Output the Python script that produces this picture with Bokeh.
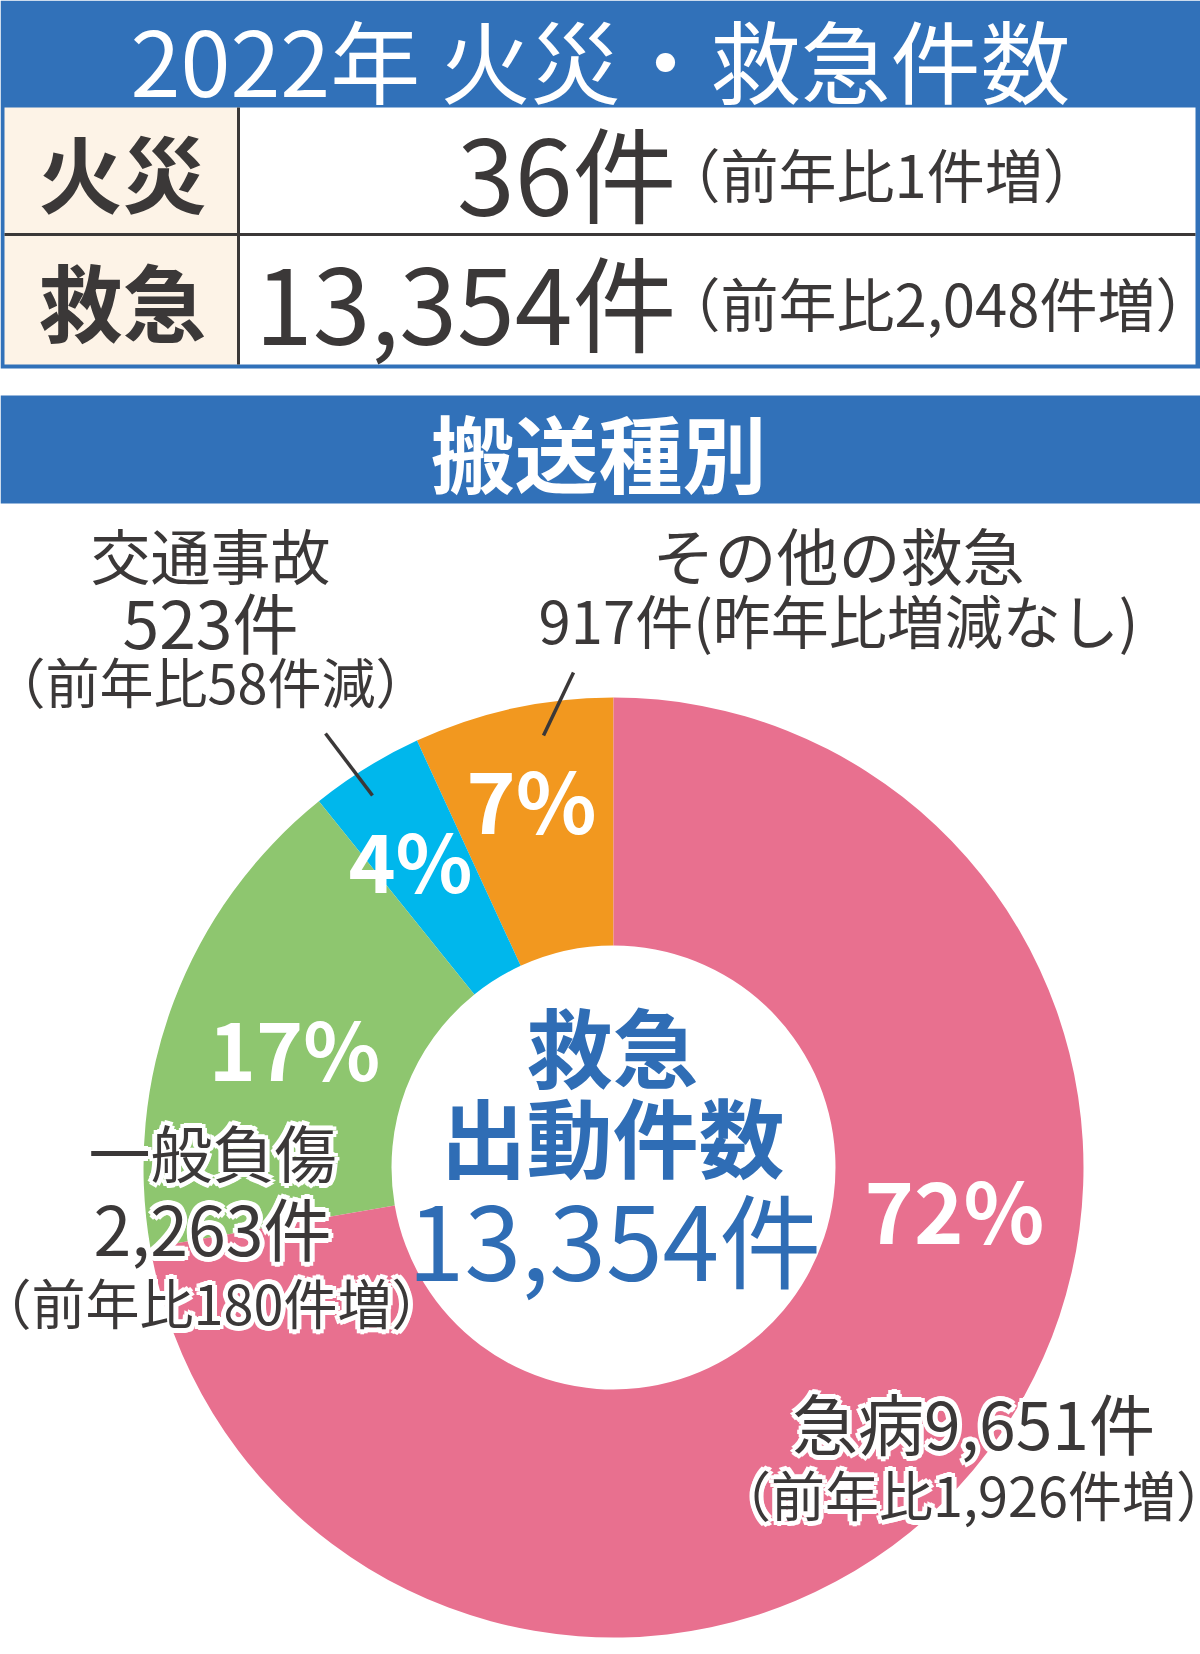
import numpy as np
from bokeh.plotting import figure
from bokeh.models import Range1d
from bokeh.core.properties import value
from bokeh.embed import file_html
from bokeh.resources import INLINE

# ---------------- data ----------------
title = "2022年 火災・救急件数"
section_title = "搬送種別"
fire_label = "火災"
fire_count = 36
fire_change = "前年比1件増"
emer_label = "救急"
emer_count = 13354
emer_change = "前年比2,048件増"

categories = ["その他の救急", "交通事故", "一般負傷", "急病"]
counts = [917, 523, 2263, 9651]
changes = ["昨年比増減なし", "前年比58件減", "前年比180件増", "前年比1,926件増"]
colors = ["#F2981F", "#00B7EC", "#8EC66F", "#E8708F"]
center_lines = ["救急", "出動件数"]

# ---------------- layout ----------------
W, H = 1200, 1654
FONT = "Noto Sans CJK JP"
DARK = "#3B3838"
BLUE = "#3171B9"
CREAM = "#FDF3E7"
CBLUE = "#2F6DB5"


def Y(y):
    return H - y


p = figure(width=W, height=H, x_range=Range1d(0, W), y_range=Range1d(0, H),
           x_axis_type=None, y_axis_type=None, toolbar_location=None,
           output_backend="svg", min_border=0, outline_line_color=None,
           background_fill_color="white", border_fill_color="white")
p.xgrid.visible = False
p.ygrid.visible = False


def txt(x, y, s, size, color=DARK, bold=False, align="center"):
    p.text(x=[x], y=[Y(y)], text=[s], text_font=value(FONT),
           text_font_size=f"{size}px", text_color=color,
           text_font_style="bold" if bold else "normal",
           text_align=align, text_baseline="middle")


def halo_txt(x, y, s, size, r=5, n=8):
    a = np.linspace(0, 2 * np.pi, n, endpoint=False)
    p.text(x=list(x + r * np.cos(a)), y=list(Y(y) + r * np.sin(a)), text=[s] * n,
           text_font=value(FONT), text_font_size=f"{size}px", text_color="white",
           text_align="center", text_baseline="middle")
    txt(x, y, s, size)


# top band + table frame
p.quad(left=[0], right=[W], top=[Y(0)], bottom=[Y(368)], fill_color=BLUE, line_color=None)
p.quad(left=[4], right=[238], top=[Y(107)], bottom=[Y(364)], fill_color=CREAM, line_color=None)
p.quad(left=[238], right=[1195], top=[Y(107)], bottom=[Y(364)], fill_color="white", line_color=None)
p.segment(x0=[238], y0=[Y(107)], x1=[238], y1=[Y(364)], line_color=DARK, line_width=3)
p.segment(x0=[4], y0=[Y(234)], x1=[1195], y1=[Y(234)], line_color=DARK, line_width=3)

txt(600, 57, title, 90, color="white")
txt(122, 170, fire_label, 84, bold=True)
txt(122, 299, emer_label, 84, bold=True)
txt(676, 170, f"{fire_count}件", 104, align="right")
txt(662, 172, f"（{fire_change}）", 58, align="left")
txt(676, 299, f"{emer_count:,}件", 104, align="right")
txt(662, 301, f"（{emer_change}）", 58, align="left")

# section band
p.quad(left=[0], right=[W], top=[Y(395)], bottom=[Y(503)], fill_color=BLUE, line_color=None)
txt(598, 450, section_title, 84, color="white", bold=True)

# donut
cx, cy = 613, 1167
R_out, R_in = 470, 222
total = sum(counts)
frac = np.array(counts) / total
ends = np.pi / 2 + 2 * np.pi * np.cumsum(frac)
starts = np.concatenate([[np.pi / 2], ends[:-1]])
p.annular_wedge(x=cx, y=Y(cy), inner_radius=R_in, outer_radius=R_out,
                start_angle=starts, end_angle=ends, direction="anticlock",
                fill_color=colors, line_color=None)

# percentage labels
pct_pos = [(531, 797), (410, 857), (294, 1045), (954, 1207)]
pct_size = [84, 80, 80, 84]
for (px, py), f, sz in zip(pct_pos, frac, pct_size):
    txt(px, py, f"{round(f * 100)}%", sz, color="white", bold=True)

# centre text
txt(612, 1044, center_lines[0], 86, color=CBLUE, bold=True)
txt(612, 1134, center_lines[1], 86, color=CBLUE, bold=True)
txt(614, 1236, f"{total:,}件", 102, color=CBLUE)

# leader lines
p.segment(x0=[573, 325], y0=[Y(672), Y(733)], x1=[543, 372], y1=[Y(735), Y(795)],
          line_color=DARK, line_width=3.5)

# category labels
txt(838, 553, categories[0], 62)
txt(838, 618, f"{counts[0]}件({changes[0]})", 58)
txt(210, 553, categories[1], 60)
txt(210, 619, f"{counts[1]}件", 66)
txt(210, 680, f"（{changes[1]}）", 54)
halo_txt(212, 1150, categories[2], 62)
halo_txt(212, 1226, f"{counts[2]:,}件", 68)
halo_txt(211, 1301, f"（{changes[2]}）", 54)
halo_txt(973, 1420, f"{categories[3]}{counts[3]:,}件", 66)
halo_txt(973, 1493, f"（{changes[3]}）", 54)

open("out.html", "w").write(file_html(p, INLINE))
